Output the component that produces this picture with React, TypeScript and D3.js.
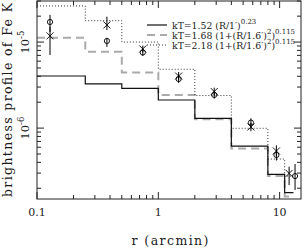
import React, { useEffect, useRef } from 'react';
import * as d3 from 'd3';

const W = 304, H = 250;
const margin = { top: 1, right: 3, bottom: 51, left: 37 };

// radial bins (arcmin) and model profiles
const binEdges = [0.1, 0.25, 0.5, 1, 2, 4, 8, 11, 13];
const powerLaw = [4.03e-6, 3.26e-6, 2.9e-6, 2.12e-6, 1.3e-6, 6.19e-7, 2.9e-7, 1.78e-7];
const betaLow = [1.125e-5, 7.73e-6, 4.43e-6, 2.43e-6, 1.27e-6, 5.79e-7, 2.77e-7, 1.6e-7];
const betaHigh = [2.63e-5, 1.77e-5, 1.0e-5, 4.83e-6, 2.39e-6, 9.95e-7, 4.37e-7, 2.77e-7];

// observed points (circles)
const circR = [0.128, 0.377, 0.745, 1.47, 2.89, 5.8, 9.4, 13.4];
const circV = [1.71e-5, 1.03e-5, 7.57e-6, 3.72e-6, 2.43e-6, 1.16e-6, 4.87e-7, 2.77e-7];
const circLo = [1.31e-5, 8.77e-6, 6.9e-6, 3.35e-6, 2.2e-6, 1.04e-6, 4.2e-7, 1.91e-7];
const circHi = [2.07e-5, 1.12e-5, 8.3e-6, 4.1e-6, 2.7e-6, 1.3e-6, 5.6e-7, 3.83e-7];

// observed points (crosses)
const crossR = [0.128, 0.377, 0.745, 1.47, 2.89, 5.8, 9.4, 11.97];
const crossV = [1.18e-5, 1.58e-5, 8.32e-6, 4.03e-6, 2.66e-6, 1.03e-6, 5.42e-7, 2.98e-7];
const crossLo = [7.08e-6, 1.38e-5, 7.6e-6, 3.62e-6, 2.4e-6, 9.2e-7, 4.7e-7, 2.18e-7];
const crossHi = [1.5e-5, 1.97e-5, 9.1e-6, 4.49e-6, 2.95e-6, 1.15e-6, 6.3e-7, 3.56e-7];

const xDomain = [0.1, 15];
const yDomain = [1.5e-7, 3e-5];
const xTickLabels = ['0.1', '1', '10'];
const yTickExps = ['-6', '-5'];

const FONT = 'DejaVu Serif';
const INK = '#1a1a1a';

const App = () => {
  const svgRef = useRef<SVGSVGElement>(null);

  useEffect(() => {
    const svg = d3.select(svgRef.current);
    svg.selectAll('*').remove();

    const x0 = margin.left, x1 = W - margin.right;
    const y0 = H - margin.bottom, y1 = margin.top;

    const x = d3.scaleLog().domain(xDomain).range([x0, x1]);
    const y = d3.scaleLog().domain(yDomain).range([y0, y1]);

    const g = svg.append('g');

    // step histograms
    const step = d3.line<[number, number]>()
      .x(d => x(d[0]))
      .y(d => y(d[1]))
      .curve(d3.curveStepAfter);
    const stepPts = (vals: number[]) => {
      const pts: [number, number][] = vals.map((v, i) => [binEdges[i], v]);
      pts.push([binEdges[vals.length], vals[vals.length - 1]]);
      return pts;
    };

    g.append('path').datum(stepPts(betaLow))
      .attr('d', step).attr('fill', 'none')
      .attr('stroke', '#aaa').attr('stroke-width', 2)
      .attr('stroke-dasharray', '8,5');
    g.append('path').datum(stepPts(betaHigh))
      .attr('d', step).attr('fill', 'none')
      .attr('stroke', '#333').attr('stroke-width', 1)
      .attr('stroke-dasharray', '1,2');
    g.append('path').datum(stepPts(powerLaw))
      .attr('d', step).attr('fill', 'none')
      .attr('stroke', '#111').attr('stroke-width', 1.2);

    // error bars
    const errs = (rs: number[], lo: number[], hi: number[]) =>
      g.append('g').selectAll('line').data(rs).enter().append('line')
        .attr('x1', d => x(d)).attr('x2', d => x(d))
        .attr('y1', (d, i) => y(lo[i])).attr('y2', (d, i) => y(hi[i]))
        .attr('stroke', '#000').attr('stroke-width', 1);
    errs(circR, circLo, circHi);
    errs(crossR, crossLo, crossHi);

    g.append('g').selectAll('circle').data(circR).enter().append('circle')
      .attr('cx', d => x(d)).attr('cy', (d, i) => y(circV[i]))
      .attr('r', 2.6).attr('fill', 'none')
      .attr('stroke', '#000').attr('stroke-width', 0.9);

    const s = 3.5;
    g.append('g').selectAll('path').data(crossR).enter().append('path')
      .attr('d', (d, i) => {
        const cx = x(d), cy = y(crossV[i]);
        return `M${cx - s},${cy - s}L${cx + s},${cy + s}M${cx - s},${cy + s}L${cx + s},${cy - s}`;
      })
      .attr('fill', 'none').attr('stroke', '#000').attr('stroke-width', 0.9);

    // frame
    g.append('rect')
      .attr('x', x0).attr('y', y1)
      .attr('width', x1 - x0).attr('height', y0 - y1)
      .attr('fill', 'none').attr('stroke', '#222').attr('stroke-width', 1);

    const isMajor = (v: number) => Math.abs(Math.log10(v) - Math.round(Math.log10(v))) < 1e-6;

    // ticks, inward on all four sides
    const ticks = g.append('g').attr('stroke', '#222').attr('stroke-width', 1);
    x.ticks().forEach(t => {
      const len = isMajor(t) ? 7 : 4;
      const px = x(t);
      ticks.append('line').attr('x1', px).attr('x2', px).attr('y1', y0).attr('y2', y0 - len);
      ticks.append('line').attr('x1', px).attr('x2', px).attr('y1', y1).attr('y2', y1 + len);
    });
    y.ticks().forEach(t => {
      const len = isMajor(t) ? 7 : 4;
      const py = y(t);
      ticks.append('line').attr('y1', py).attr('y2', py).attr('x1', x0).attr('x2', x0 + len);
      ticks.append('line').attr('y1', py).attr('y2', py).attr('x1', x1).attr('x2', x1 - len);
    });

    // x tick labels
    const xMajors = x.ticks().filter(isMajor);
    g.append('g').selectAll('text').data(xMajors).enter().append('text')
      .attr('x', d => x(d)).attr('y', y0 + 17)
      .attr('text-anchor', 'middle').attr('fill', INK)
      .attr('font-family', FONT).attr('font-size', 11)
      .text((d, i) => xTickLabels[i]);

    // y tick labels (rotated)
    const yMajors = y.ticks().filter(isMajor);
    yMajors.forEach((t, i) => {
      const txt = g.append('text')
        .attr('transform', `translate(${x0 - 8},${y(t)}) rotate(-90)`)
        .attr('text-anchor', 'middle').attr('fill', INK)
        .attr('font-family', FONT).attr('font-size', 11.5);
      txt.append('tspan').text('10');
      txt.append('tspan').attr('dy', -5).attr('font-size', 8.5).text(yTickExps[i]);
    });

    // axis titles
    g.append('text')
      .attr('x', (x0 + x1) / 2 + 1).attr('y', H - 5)
      .attr('text-anchor', 'middle').attr('fill', INK)
      .attr('font-family', FONT).attr('font-size', 12.5)
      .attr('textLength', 77).attr('lengthAdjust', 'spacing')
      .text('r (arcmin)');
    g.append('text')
      .attr('transform', `translate(12,${(y0 + y1) / 2}) rotate(-90)`)
      .attr('text-anchor', 'middle').attr('fill', INK)
      .attr('font-family', FONT).attr('font-size', 12.5)
      .attr('textLength', 194).attr('lengthAdjust', 'spacing')
      .text('brightness profile of Fe K');

    // legend
    const legend = [
      { stroke: '#111', width: 1.2, dash: null, parts: [['kT=1.52 (R/1′)', 0], ['0.23', 1]] },
      { stroke: '#aaa', width: 2, dash: '8,5', parts: [['kT=1.68 (1+(R/1.6′)', 0], ['2', 1], [')', 0], ['0.115', 1]] },
      { stroke: '#333', width: 1, dash: '1,2', parts: [['kT=2.18 (1+(R/1.6′)', 0], ['2', 1], [')', 0], ['0.115', 1]] },
    ];
    legend.forEach((row, i) => {
      const ly = 25 + i * 10;
      const ln = g.append('line')
        .attr('x1', 147).attr('x2', 167).attr('y1', ly).attr('y2', ly)
        .attr('stroke', row.stroke).attr('stroke-width', row.width);
      if (row.dash) ln.attr('stroke-dasharray', row.dash);
      const txt = g.append('text')
        .attr('x', 172).attr('y', ly + 3.5).attr('fill', INK)
        .attr('font-family', FONT).attr('font-size', 9.3);
      let up = false;
      row.parts.forEach(([str, sup]) => {
        const ts = txt.append('tspan').text(str as string);
        if (sup && !up) { ts.attr('dy', -4.5).attr('font-size', 7); up = true; }
        else if (!sup && up) { ts.attr('dy', 4.5); up = false; }
        else if (sup) ts.attr('font-size', 7);
      });
    });
  }, []);

  return (
    <svg
      ref={svgRef}
      width={W}
      height={H}
      style={{ position: 'absolute', left: 0, top: 0, background: '#fff' }}
    />
  );
};

export default App;
